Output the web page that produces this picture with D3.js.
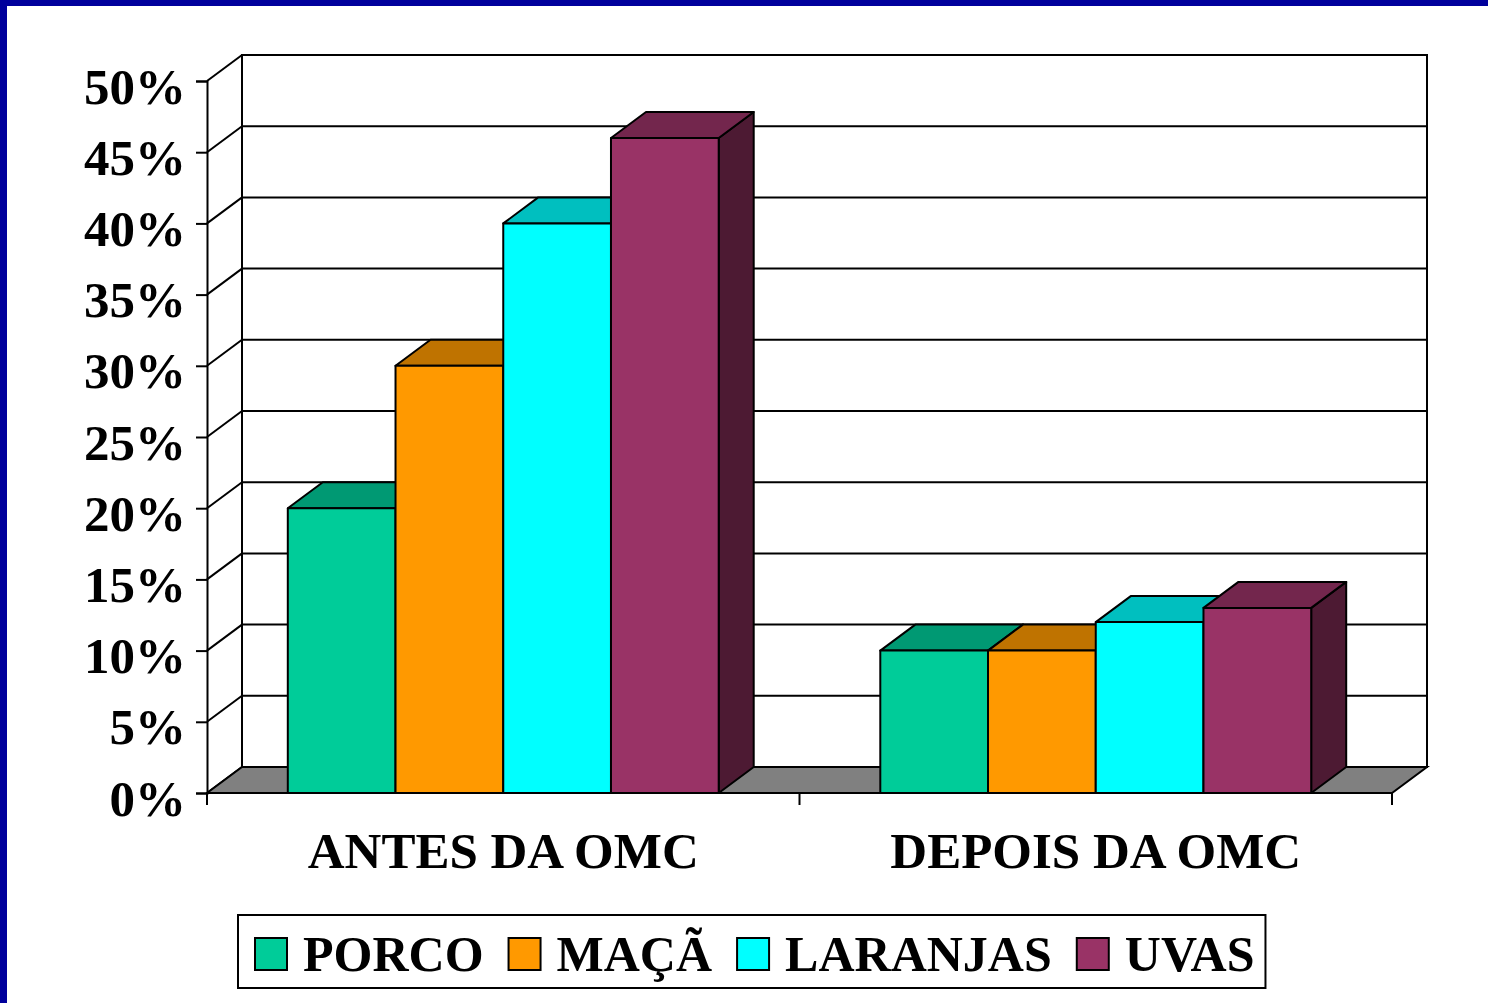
<!DOCTYPE html>
<html>
<head>
<meta charset="utf-8">
<script src="https://d3js.org/d3.v7.min.js"></script>
<style>
  body { margin: 0; background: #fff; }
  svg { display: block; }
</style>
</head>
<body>
<div id="chart"></div>
<script>

// data
var categories = ["ANTES DA OMC", "DEPOIS DA OMC"];
var series = ["PORCO", "MAÇÃ", "LARANJAS", "UVAS"];
var colors = ["#00CC99", "#FF9900", "#00FFFF", "#993366"];
var porco = [0.20, 0.10];
var maca = [0.30, 0.10];
var laranjas = [0.40, 0.12];
var uvas = [0.46, 0.13];
var yTicks = [0, 0.05, 0.10, 0.15, 0.20, 0.25, 0.30, 0.35, 0.40, 0.45, 0.50];

var values = [porco, maca, laranjas, uvas];

var W = 1488, H = 1003;
var font = "'Liberation Serif', 'Times New Roman', serif";
var fs = 51;

// 3d depth offset
var dx = 35, dy = -26;

var svg = d3.select("#chart").append("svg")
    .attr("width", W)
    .attr("height", H);

// blue frame top / left
svg.append("rect").attr("x", 0).attr("y", 0).attr("width", W).attr("height", 6).attr("fill", "#00009C");
svg.append("rect").attr("x", 0).attr("y", 0).attr("width", 7).attr("height", H).attr("fill", "#00009C");

var x0 = d3.scaleBand()
    .domain(categories)
    .range([207, 1392]);

var x1 = d3.scaleBand()
    .domain(series)
    .range([0, x0.bandwidth()])
    .paddingOuter(0.75);

var y = d3.scaleLinear()
    .domain([0, 0.5])
    .range([793, 81]);

var x0min = x0.range()[0], x0max = x0.range()[1];

// back wall
svg.append("rect")
    .attr("x", x0min + dx)
    .attr("y", y(0.5) + dy)
    .attr("width", x0max - x0min)
    .attr("height", y(0) - y(0.5))
    .attr("fill", "#fff")
    .attr("stroke", "#000")
    .attr("stroke-width", 2);

// grid lines on the back wall + side wall
svg.append("g").selectAll("line.grid")
    .data(yTicks)
    .enter().append("line")
    .attr("x1", x0min + dx).attr("x2", x0max + dx)
    .attr("y1", function(d) { return y(d) + dy; })
    .attr("y2", function(d) { return y(d) + dy; })
    .attr("stroke", "#000").attr("stroke-width", 2);

svg.append("g").selectAll("line.side")
    .data(yTicks)
    .enter().append("line")
    .attr("x1", x0min).attr("x2", x0min + dx)
    .attr("y1", function(d) { return y(d); })
    .attr("y2", function(d) { return y(d) + dy; })
    .attr("stroke", "#000").attr("stroke-width", 2);

// floor
svg.append("path")
    .attr("d", "M" + x0min + "," + y(0) + "L" + x0max + "," + y(0) +
        "L" + (x0max + dx) + "," + (y(0) + dy) + "L" + (x0min + dx) + "," + (y(0) + dy) + "Z")
    .attr("fill", "#808080")
    .attr("stroke", "#000")
    .attr("stroke-width", 2);

// y axis
var yAxis = svg.append("g")
    .attr("transform", "translate(" + x0min + ",0)")
    .call(d3.axisLeft(y).tickValues(yTicks).tickFormat(d3.format(".0%")).tickSize(11).tickPadding(10));
yAxis.select(".domain").attr("stroke", "#000").attr("stroke-width", 2);
yAxis.selectAll(".tick line").attr("stroke", "#000").attr("stroke-width", 2);
yAxis.selectAll(".tick text")
    .attr("font-family", font)
    .attr("font-weight", "bold")
    .attr("font-size", fs)
    .attr("fill", "#000")
    .attr("dy", 22);

// x axis ticks at the band boundaries
var xTicks = [x0min].concat(categories.map(function(c) { return x0(c) + x0.bandwidth(); }));
svg.append("g").selectAll("line")
    .data(xTicks)
    .enter().append("line")
    .attr("x1", function(d) { return d; }).attr("x2", function(d) { return d; })
    .attr("y1", y(0)).attr("y2", y(0) + 12)
    .attr("stroke", "#000").attr("stroke-width", 2);

svg.append("g").selectAll("text")
    .data(categories)
    .enter().append("text")
    .attr("x", function(d) { return x0(d) + x0.bandwidth() / 2; })
    .attr("y", 868)
    .attr("text-anchor", "middle")
    .attr("font-family", font)
    .attr("font-weight", "bold")
    .attr("font-size", fs)
    .text(function(d) { return d; });

// bars
function shade(c, k) {
    var r = d3.rgb(c);
    return d3.rgb(r.r * k, r.g * k, r.b * k).formatHex();
}

var bars = [];
categories.forEach(function(cat, ci) {
    series.forEach(function(s, si) {
        bars.push({cat: cat, s: s, v: values[si][ci], color: colors[si]});
    });
});

var barG = svg.append("g");
bars.forEach(function(b) {
    var xl = x0(b.cat) + x1(b.s);
    var xr = xl + x1.bandwidth();
    var yt = y(b.v), yb = y(0);
    var g = barG.append("g");
    // side
    g.append("path")
        .attr("d", "M" + xr + "," + yb + "L" + (xr + dx) + "," + (yb + dy) +
            "L" + (xr + dx) + "," + (yt + dy) + "L" + xr + "," + yt + "Z")
        .attr("fill", shade(b.color, 0.5));
    // top
    g.append("path")
        .attr("d", "M" + xl + "," + yt + "L" + xr + "," + yt +
            "L" + (xr + dx) + "," + (yt + dy) + "L" + (xl + dx) + "," + (yt + dy) + "Z")
        .attr("fill", shade(b.color, 0.75));
    // front
    g.append("rect")
        .attr("x", xl).attr("y", yt)
        .attr("width", xr - xl).attr("height", yb - yt)
        .attr("fill", b.color);
    g.selectAll("path, rect")
        .attr("stroke", "#000")
        .attr("stroke-width", 2)
        .attr("stroke-linejoin", "round");
});

// legend
var legend = svg.append("g");
var lgBox = legend.append("rect")
    .attr("x", 238).attr("y", 915)
    .attr("height", 73)
    .attr("fill", "#fff")
    .attr("stroke", "#000")
    .attr("stroke-width", 2);

var lx = 255;
series.forEach(function(s, i) {
    legend.append("rect")
        .attr("x", lx).attr("y", 938)
        .attr("width", 32).attr("height", 32)
        .attr("fill", colors[i])
        .attr("stroke", "#000")
        .attr("stroke-width", 2);
    var t = legend.append("text")
        .attr("x", lx + 48)
        .attr("y", 971)
        .attr("font-family", font)
        .attr("font-weight", "bold")
        .attr("font-size", 50)
        .text(s);
    lx = lx + 48 + t.node().getComputedTextLength() + 25;
});
lgBox.attr("width", lx - 25 + 11 - 238);

</script>
</body>
</html>
